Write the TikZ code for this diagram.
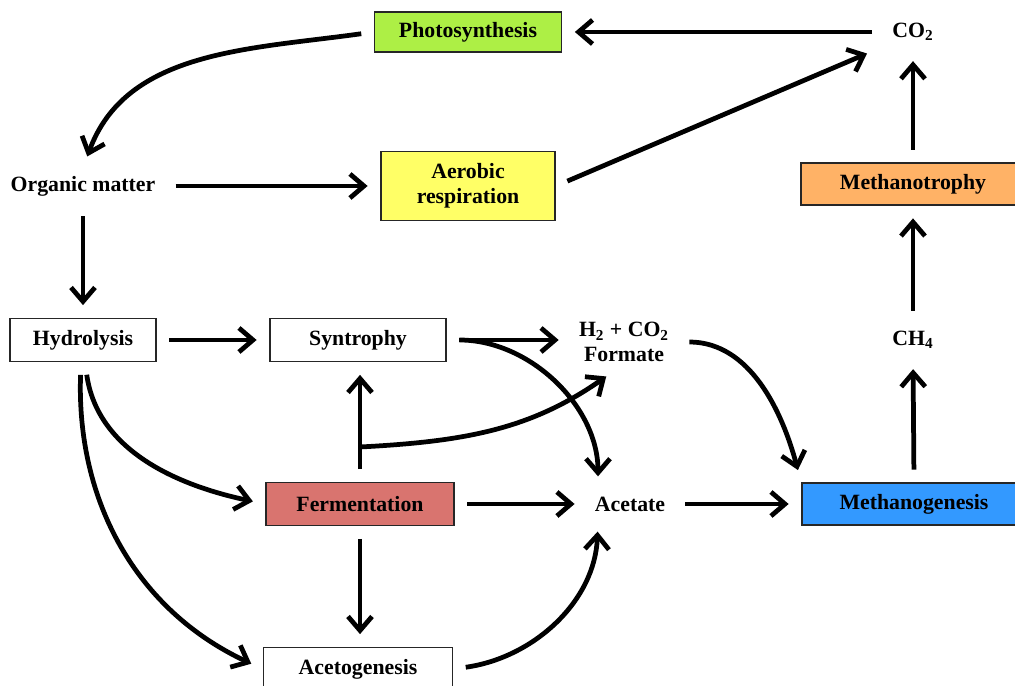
\documentclass[tikz,border=0pt]{standalone}
\usepackage{fontspec}
\setmainfont{Liberation Serif}
\usetikzlibrary{arrows.meta}

\definecolor{photogreen}{HTML}{ADEF45}
\definecolor{aerobyellow}{HTML}{FFFF66}
\definecolor{mtrophorange}{HTML}{FFB266}
\definecolor{fermred}{HTML}{D9746F}
\definecolor{mgenblue}{HTML}{3399FF}

\begin{document}
\begin{tikzpicture}[
        procbox/.style={draw=black!85, line width=1pt, minimum height=0.86cm, inner sep=2pt,
            align=center, font=\bfseries\fontsize{12.4}{14.2}\selectfont},
        plaintext/.style={inner sep=0.15cm, align=center, font=\bfseries\fontsize{12.4}{13.8}\selectfont},
        flow/.style={-{Straight Barb[length=2.8mm,width=4.8mm]}, line width=2.7pt,
            shorten >=0.25cm, shorten <=0.25cm},
        >=stealth
    ]
        \useasboundingbox (0,0) rectangle (20.3,13.72);

        % Process boxes
        \node[procbox, fill=photogreen, minimum width=3.74cm, minimum height=0.8cm] (photo) at (9.36,13.08) {Photosynthesis};
        \node[procbox, fill=aerobyellow, minimum width=3.48cm, minimum height=1.38cm] (aerobic) at (9.36,10.0) {Aerobic\\respiration};
        \node[procbox, fill=mtrophorange, minimum width=4.48cm, minimum height=0.84cm] (mtroph) at (18.26,10.04) {Methanotrophy};
        \node[procbox, fill=white, minimum width=2.92cm] (hydro) at (1.66,6.92) {Hydrolysis};
        \node[procbox, fill=white, minimum width=3.52cm] (syntro) at (7.16,6.92) {Syntrophy};
        \node[procbox, fill=fermred, minimum width=3.76cm] (ferm) at (7.2,3.64) {Fermentation};
        \node[procbox, fill=mgenblue, minimum width=4.48cm, minimum height=0.84cm] (mgen) at (18.28,3.64) {Methanogenesis};
        \node[procbox, fill=white, minimum width=3.78cm] (acetogen) at (7.16,0.34) {Acetogenesis};

        % Substrates and products
        \node[plaintext] (co2) at (18.26,13.08) {CO\textsubscript{2}};
        \node[plaintext] (organic) at (1.66,10.0) {Organic matter};
        \node[plaintext] (htwo) at (12.48,6.88) {H\textsubscript{2} + CO\textsubscript{2}\\Formate};
        \node[plaintext] (ch4) at (18.26,6.92) {CH\textsubscript{4}};
        \node[plaintext] (acetate) at (12.6,3.64) {Acetate};

        % Carbon cycle at the top
        \draw[flow] (co2.west) -- (photo.east);
        \draw[flow] (photo.west) to[out=188, in=70] (organic.north);
        \draw[flow] (organic.east) -- (aerobic.west);
        \draw[flow] (aerobic.east) -- ([xshift=-0.12cm]co2.south west);
        \draw[flow] (mtroph.north) -- (co2.south);
        \draw[flow] (organic.south) -- (hydro.north);

        % Anaerobic degradation chain
        \draw[flow] (hydro.east) -- (syntro.west);
        \draw[flow] (syntro.east) -- (htwo.west |- syntro.east);
        \draw[flow] (syntro.east) to[out=0, in=90] ([xshift=-0.64cm]acetate.north);
        \draw[flow] (htwo.east) to[out=0, in=105] (mgen.north west);
        \draw[flow] (ferm.north) -- (ferm.north |- syntro.south);
        \coordinate (split) at (7.2,4.78);
        \draw[flow, shorten <=0pt] (split) to[out=3, in=215] ([xshift=-0.15cm]htwo.south);
        \draw[flow] ([xshift=0.04cm]hydro.south) to[out=-82, in=168] (ferm.west);
        \draw[flow] ([xshift=-0.04cm]hydro.south) to[out=-92, in=155] (acetogen.west);
        \draw[flow] (ferm.east) -- (acetate.west);
        \draw[flow] (ferm.south) -- (ferm.south |- acetogen.north);
        \draw[flow] (acetogen.east) to[out=8, in=-92] ([xshift=-0.64cm]acetate.south);
        \draw[flow] (acetate.east) -- (mgen.west);

        % Methane cycle
        \draw[flow] (mgen.north) -- (ch4.south);
        \draw[flow] (ch4.north) -- (mtroph.south);
    \end{tikzpicture}
\end{document}
